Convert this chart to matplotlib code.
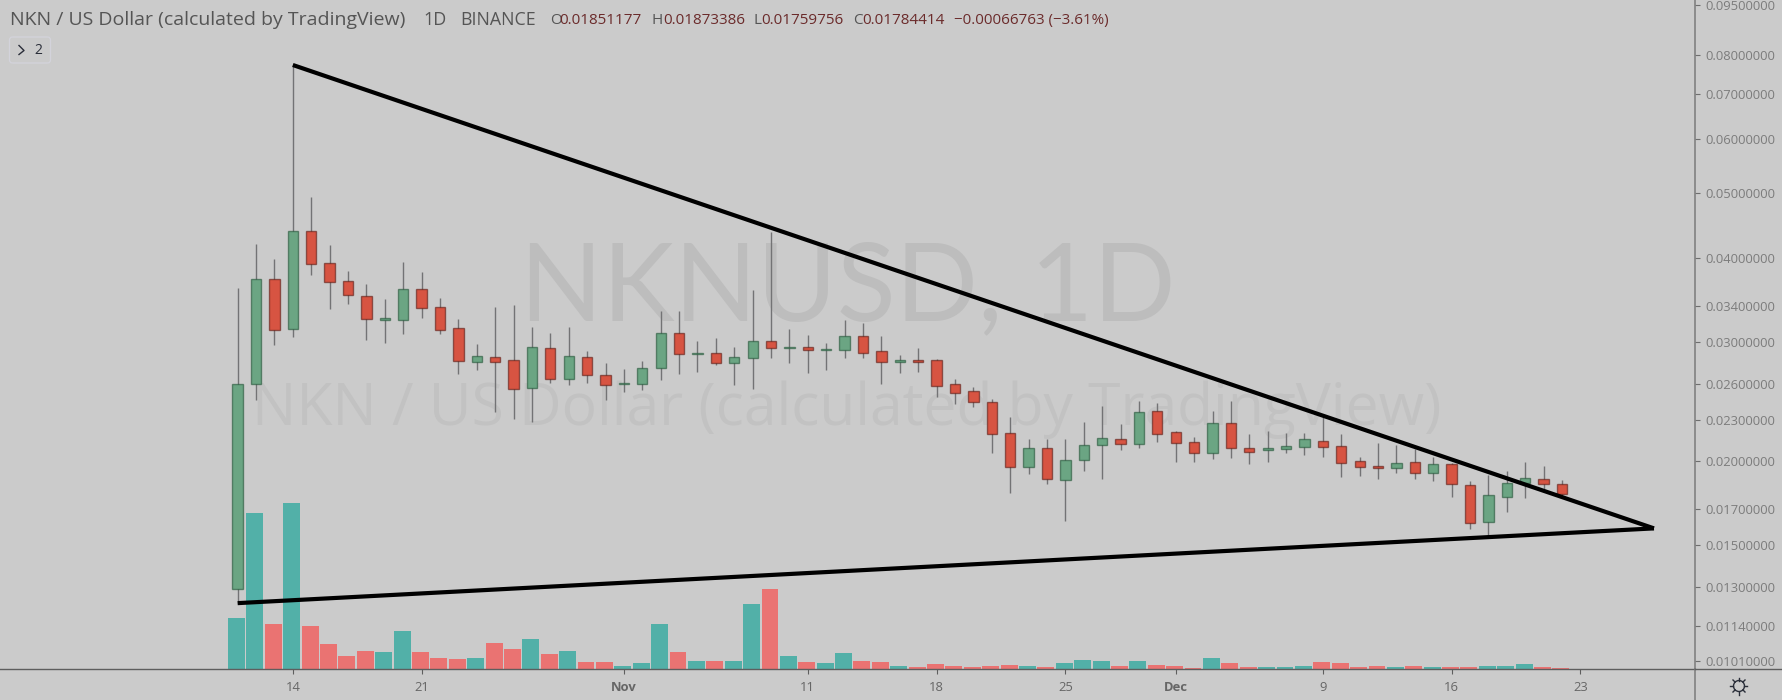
import numpy as np
import matplotlib
matplotlib.use("Agg")
import matplotlib.pyplot as plt
from matplotlib.patches import Circle, FancyBboxPatch

# daily candles, first one is Oct 11
opens = [0.01292, 0.02602, 0.03718, 0.03138, 0.04389, 0.03931, 0.03701, 0.03516, 0.03236, 0.03236,
         0.03594, 0.03386, 0.03149, 0.02806, 0.02854, 0.02825, 0.02568, 0.02941, 0.02646, 0.02851,
         0.02685, 0.02598, 0.02601, 0.02750, 0.03096, 0.02878, 0.02891, 0.02794, 0.02844, 0.03015,
         0.02941, 0.02953, 0.02921, 0.02921, 0.03067, 0.02911, 0.02808, 0.02828, 0.02825, 0.02598,
         0.02539, 0.02446, 0.02198, 0.01961, 0.02088, 0.01873, 0.02005, 0.02110, 0.02153, 0.02119,
         0.02374, 0.02208, 0.02134, 0.02055, 0.02275, 0.02088, 0.02074, 0.02083, 0.02099, 0.02141,
         0.02104, 0.02000, 0.01966, 0.01953, 0.01991, 0.01920, 0.01982, 0.01842, 0.01626, 0.01770,
         0.01857, 0.01883, 0.01851177]
highs = [0.03612, 0.04195, 0.03985, 0.07734, 0.04922, 0.04176, 0.03825, 0.03659, 0.03475, 0.03941,
         0.03808, 0.03491, 0.03250, 0.02981, 0.03386, 0.03402, 0.03162, 0.03099, 0.03162, 0.02908,
         0.02797, 0.02738, 0.02816, 0.03334, 0.03334, 0.03009, 0.03046, 0.02953, 0.03581, 0.04375,
         0.03135, 0.03071, 0.02995, 0.03233, 0.03206, 0.03060, 0.02868, 0.02941, 0.02832, 0.02646,
         0.02578, 0.02468, 0.02325, 0.02156, 0.02156, 0.02156, 0.02287, 0.02416, 0.02267, 0.02457,
         0.02440, 0.02217, 0.02172, 0.02374, 0.02457, 0.02190, 0.02217, 0.02200, 0.02200, 0.02325,
         0.02190, 0.02029, 0.02126, 0.02110, 0.02081, 0.02029, 0.01986, 0.01870, 0.01907, 0.01935,
         0.01993, 0.01968, 0.01873386]
lows = [0.01231, 0.02460, 0.02968, 0.03056, 0.03773, 0.03360, 0.03414, 0.03022, 0.02991, 0.03082,
        0.03257, 0.03082, 0.02691, 0.02729, 0.02366, 0.02305, 0.02284, 0.02607, 0.02589, 0.02607,
        0.02460, 0.02533, 0.02545, 0.02634, 0.02688, 0.02713, 0.02772, 0.02589, 0.02554, 0.02842,
        0.02794, 0.02700, 0.02733, 0.02842, 0.02842, 0.02601, 0.02700, 0.02713, 0.02490, 0.02429,
        0.02408, 0.02053, 0.01793, 0.01911, 0.01847, 0.01632, 0.01935, 0.01879, 0.02074, 0.02090,
        0.02136, 0.01995, 0.01995, 0.02012, 0.02021, 0.01978, 0.01995, 0.02053, 0.02039, 0.02029,
        0.01896, 0.01902, 0.01879, 0.01918, 0.01879, 0.01870, 0.01770, 0.01584, 0.01548, 0.01680,
        0.01762, 0.01815, 0.01759756]
closes = [0.02598, 0.03718, 0.03128, 0.04389, 0.03922, 0.03681, 0.03524, 0.03246, 0.03257, 0.03594,
          0.03374, 0.03128, 0.02810, 0.02861, 0.02806, 0.02556, 0.02953, 0.02646, 0.02861, 0.02682,
          0.02592, 0.02613, 0.02744, 0.03096, 0.02881, 0.02894, 0.02794, 0.02854, 0.03015, 0.02945,
          0.02957, 0.02918, 0.02936, 0.03067, 0.02894, 0.02806, 0.02828, 0.02808, 0.02580, 0.02524,
          0.02448, 0.02193, 0.01961, 0.02088, 0.01883, 0.02009, 0.02114, 0.02163, 0.02119, 0.02364,
          0.02193, 0.02126, 0.02055, 0.02275, 0.02090, 0.02064, 0.02090, 0.02104, 0.02153, 0.02099,
          0.01986, 0.01961, 0.01953, 0.01984, 0.01920, 0.01982, 0.01847, 0.01619, 0.01779, 0.01853,
          0.01886, 0.01849, 0.01784414]
volumes = [51, 156, 45, 166, 43.3, 24.7, 13.3, 18.3, 17.3, 38.3,
           17.3, 11, 9.7, 11, 26, 20, 29.7, 14.7, 18.3, 7.3,
           7.3, 3.3, 6, 45, 17.3, 8.3, 8.3, 8.3, 65, 80,
           13.3, 7.3, 6, 16, 8.3, 7.3, 3.3, 2.3, 4.7, 3.3,
           2.3, 3.3, 4.5, 3.2, 2.2, 5.8, 9.5, 8.2, 3, 8,
           4.3, 3, 1, 10.7, 5.7, 2, 2, 2, 3, 7,
           5.7, 2, 3, 2, 3, 2, 2, 2, 3.2, 3.3,
           4.7, 2, 1]

tick_pos = [3, 10, 21, 31, 38, 45, 51, 59, 66, 73]
tick_labels = ["14", "21", "Nov", "11", "18", "25", "Dec", "9", "16", "23"]
price_ticks = [0.095, 0.08, 0.07, 0.06, 0.05, 0.04, 0.034, 0.03, 0.026, 0.023, 0.02, 0.017, 0.015, 0.013, 0.0114, 0.0101]

upper_x = [3, 77]
upper_y = [0.07734, 0.01589]
lower_x = [0, 77]
lower_y = [0.01231, 0.01589]

BG = "#cbcbcb"
FONT = "Open Sans"
W, H = 1783, 700
plt.rcParams["font.family"] = FONT

fig = plt.figure(figsize=(W / 100, H / 100), dpi=100, facecolor=BG)
rect = [0, 31 / H, 1695 / W, 669 / H]
xmin, xmax = -12.92, 79.23

# pixel-space layer behind the chart, for the watermark
back = fig.add_axes([0, 0, 1, 1], zorder=0)
back.set_xlim(0, W)
back.set_ylim(H, 0)
back.axis("off")
back.text(848, 320, "NKNUSD, 1D", fontsize=78, color="#bdbdbd", ha="center", va="baseline", family="Lato")
back.text(847, 425, "NKN / US Dollar (calculated by TradingView)", fontsize=42.3, color="#c2c2c2",
          ha="center", va="baseline")

x = np.arange(len(opens))
opens = np.array(opens)
closes = np.array(closes)
up = closes >= opens

# volume
vol = fig.add_axes(rect, zorder=1)
vol.patch.set_visible(False)
vol.bar(x, volumes, width=0.92, color=["#52b0a8" if u else "#ea7372" for u in up])
vol.set_xlim(xmin + 0.06, xmax + 0.06)
vol.set_ylim(0, 669)
vol.axis("off")

# candles
ax = fig.add_axes(rect, zorder=2)
ax.patch.set_visible(False)
ax.set_yscale("log")
ax.set_xlim(xmin, xmax)
ax.set_ylim(0.00983, 0.09656)
ax.vlines(x, lows, highs, color="#737375", lw=1.0, zorder=2)
body_low = np.minimum(opens, closes)
body_high = np.maximum(opens, closes)
ax.bar(x[up], (body_high - body_low)[up], bottom=body_low[up], width=0.56, color="#6ba583",
       edgecolor=(0x22 / 255, 0x54 / 255, 0x37 / 255, 0.6), linewidth=1.0, zorder=3)
ax.bar(x[~up], (body_high - body_low)[~up], bottom=body_low[~up], width=0.56, color="#d75442",
       edgecolor=(0x5b / 255, 0x1a / 255, 0x13 / 255, 0.6), linewidth=1.0, zorder=3)

# trend lines
ax.plot(upper_x, upper_y, color="black", lw=3.0, zorder=4, solid_capstyle="butt")
ax.plot(lower_x, lower_y, color="black", lw=3.0, zorder=4, solid_capstyle="butt")

# axes
for s in ["left", "top"]:
    ax.spines[s].set_visible(False)
ax.spines["right"].set_color("#7b7b7b")
ax.spines["right"].set_linewidth(1.1)
ax.spines["bottom"].set_color("#5e5e5e")
ax.spines["bottom"].set_linewidth(1.0)
ax.yaxis.tick_right()
ax.set_yticks(price_ticks)
ax.set_yticklabels([f"{p:.8f}" for p in price_ticks])
ax.minorticks_off()
ax.tick_params(axis="y", length=3.6, width=0.8, color="#6e6e6e", labelcolor="#7c7c7c", labelsize=9.4, pad=4)
ax.set_xticks(tick_pos)
ax.set_xticklabels(tick_labels)
ax.tick_params(axis="x", length=3.6, width=0.8, color="#5e5e5e", labelcolor="#666666", labelsize=9.4, pad=5)
for lab in ax.get_xticklabels():
    if lab.get_text() in ("Nov", "Dec"):
        lab.set_fontweight("bold")

# pixel-space layer on top: header, legend toggle, gear
top = fig.add_axes([0, 0, 1, 1], zorder=3)
top.set_xlim(0, W)
top.set_ylim(H, 0)
top.axis("off")
top.patch.set_visible(False)
top.plot([1695, 1695], [669, 700], color="#7b7b7b", lw=1.1)
top.plot([1695, 1783], [669, 669], color="#5e5e5e", lw=1.0)

head = "#555555"
val = "#6b2b2b"
top.text(10.5, 20, "NKN / US Dollar (calculated by TradingView)", fontsize=14, color=head, va="center")
top.text(423, 20, "1D", fontsize=13, color=head, va="center")
top.text(460, 20, "BINANCE", fontsize=12.8, color=head, va="center")
for lx, vx, name, value in [(550, 559, "O", "0.01851177"), (652, 663, "H", "0.01873386"),
                            (754, 761, "L", "0.01759756"), (853.5, 862.5, "C", "0.01784414")]:
    top.text(lx, 20.5, name, fontsize=11, color=head, va="center")
    top.text(vx, 20.5, value, fontsize=11, color=val, va="center")
top.text(954, 20.5, "\u22120.00066763 (\u22123.61%)", fontsize=10.9, color=val, va="center")

top.add_patch(FancyBboxPatch((11.5, 39), 37, 22, boxstyle="round,pad=2,rounding_size=3",
                             fc="none", ec="#d3d3db", lw=0.9))
top.plot([19, 24, 19], [45.5, 50.5, 54.5], color="#2a2e39", lw=1.0)
top.text(34, 50, "2", fontsize=10, color="#2a2e39", va="center")

top.add_patch(Circle((1739, 686), 5.5, fc="none", ec="#2a2e39", lw=1.0))
for a in np.arange(0, 2 * np.pi, np.pi / 4):
    top.plot([1739 + 5.5 * np.cos(a), 1739 + 8.5 * np.cos(a)],
             [686 + 5.5 * np.sin(a), 686 + 8.5 * np.sin(a)], color="#2a2e39", lw=1.0)

fig.savefig("out.png", dpi=100, facecolor=BG)
